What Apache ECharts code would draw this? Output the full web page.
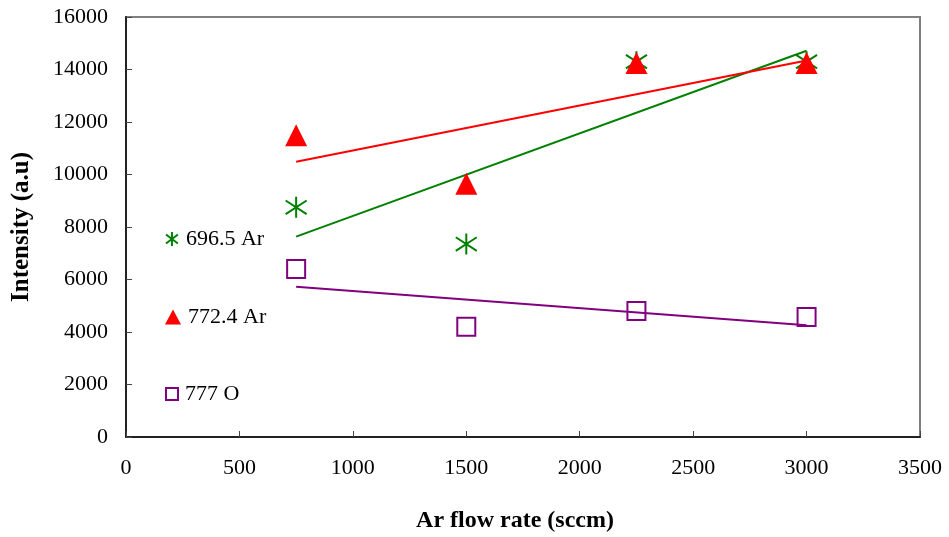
<!DOCTYPE html>
<html>
<head>
<meta charset="utf-8">
<script src="https://cdn.jsdelivr.net/npm/echarts@6/dist/echarts.min.js"></script>
<style>
  html, body { margin: 0; padding: 0; background: #fff; }
  #chart { width: 949px; height: 537px; }
</style>
</head>
<body>
<div id="chart"></div>
<script>
// Ar flow rate (sccm)
const flowRates = [750, 1500, 2250, 3000];
// Emission line intensities (a.u.)
const ar6965 = [8750, 7350, 14300, 14300];
const ar7724 = [11500, 9650, 14250, 14250];
const o777 = [6400, 4200, 4800, 4570];

const seriesNames = ['696.5 Ar', '772.4 Ar', '777 O'];
const xTicks = [0, 500, 1000, 1500, 2000, 2500, 3000, 3500];
const yTicks = [0, 2000, 4000, 6000, 8000, 10000, 12000, 14000, 16000];

const FONT = '"Liberation Serif", "Times New Roman", serif';
const GREEN = '#008000', RED = '#ff0000', PURPLE = '#800080';
const ASTERISK = 'path://M10,0L10,20M1.5,3.5L18.5,16.5M1.5,16.5L18.5,3.5';

// least-squares line evaluated at the first and last flow rate
function trend(xs, ys) {
  const n = xs.length;
  const mx = xs.reduce((a, b) => a + b, 0) / n;
  const my = ys.reduce((a, b) => a + b, 0) / n;
  let sxy = 0, sxx = 0;
  for (let i = 0; i < n; i++) {
    sxy += (xs[i] - mx) * (ys[i] - my);
    sxx += (xs[i] - mx) * (xs[i] - mx);
  }
  const k = sxy / sxx, b = my - k * mx;
  const x0 = xs[0], x1 = xs[n - 1];
  return [[x0, k * x0 + b], [x1, k * x1 + b]];
}

const pairs = ys => flowRates.map((x, i) => [x, ys[i]]);

const chart = echarts.init(document.getElementById('chart'));

function legendAt(top, name, icon, style, w, h) {
  return {
    left: 160, top: top, orient: 'vertical',
    itemWidth: w, itemHeight: h, itemGap: 0,
    selectedMode: false,
    data: [{ name: name, icon: icon, itemStyle: style }],
    textStyle: { fontFamily: FONT, fontSize: 22, color: '#000', padding: [0, 0, 0, 2] }
  };
}

chart.setOption({
  animation: false,
  backgroundColor: '#fff',
  grid: {
    left: 126, right: 29, top: 17, bottom: 100,
    outerBoundsMode: 'none',
    show: true, borderColor: '#808080', borderWidth: 2, backgroundColor: 'transparent'
  },
  legend: [
    legendAt(223, seriesNames[0], ASTERISK, { color: 'transparent', borderColor: GREEN, borderWidth: 2, opacity: 1 }, 14, 14),
    legendAt(301, seriesNames[1], 'triangle', { color: RED, borderWidth: 0, opacity: 1 }, 16, 15),
    legendAt(378, seriesNames[2], 'rect', { color: '#fff', borderColor: PURPLE, borderWidth: 2, opacity: 1 }, 12, 12)
  ],
  xAxis: {
    type: 'value', min: 0, max: 3500, interval: 500,
    name: 'Ar flow rate (sccm)', nameLocation: 'middle', nameGap: 72,
    nameTextStyle: { fontFamily: FONT, fontSize: 24, fontWeight: 'bold', color: '#000', padding: [0, 16, 0, 0] },
    axisLine: { show: true, onZero: false, lineStyle: { color: '#222', width: 2 } },
    axisTick: { show: true, inside: true, length: 6, lineStyle: { color: '#444', width: 1 } },
    axisLabel: { margin: 20, fontFamily: FONT, fontSize: 22, color: '#000',
      formatter: v => xTicks.includes(v) ? String(v) : '' },
    splitLine: { show: false }
  },
  yAxis: {
    type: 'value', min: 0, max: 16000, interval: 2000,
    name: 'Intensity (a.u)', nameLocation: 'middle', nameGap: 92, nameRotate: 90,
    nameTextStyle: { fontFamily: FONT, fontSize: 25, fontWeight: 'bold', color: '#000' },
    axisLine: { show: true, lineStyle: { color: '#222', width: 2 } },
    axisTick: { show: true, inside: true, length: 6, lineStyle: { color: '#444', width: 1 } },
    axisLabel: { margin: 18, fontFamily: FONT, fontSize: 22, color: '#000',
      formatter: v => yTicks.includes(v) ? String(v) : '' },
    splitLine: { show: false }
  },
  series: [
    { name: seriesNames[0] + ' fit', type: 'line', data: trend(flowRates, ar6965), symbol: 'none',
      lineStyle: { color: GREEN, width: 2 }, z: 2, silent: true },
    { name: seriesNames[1] + ' fit', type: 'line', data: trend(flowRates, ar7724), symbol: 'none',
      lineStyle: { color: RED, width: 2 }, z: 2, silent: true },
    { name: seriesNames[2] + ' fit', type: 'line', data: trend(flowRates, o777), symbol: 'none',
      lineStyle: { color: PURPLE, width: 2 }, z: 2, silent: true },
    { name: seriesNames[0], type: 'scatter', data: pairs(ar6965), symbol: ASTERISK, symbolSize: 21,
      itemStyle: { color: 'transparent', borderColor: GREEN, borderWidth: 2, opacity: 1 }, z: 3 },
    { name: seriesNames[1], type: 'scatter', data: pairs(ar7724), symbol: 'triangle', symbolSize: [22, 22],
      itemStyle: { color: RED, opacity: 1 }, z: 4 },
    { name: seriesNames[2], type: 'scatter', data: pairs(o777), symbol: 'rect', symbolSize: 18,
      itemStyle: { color: 'transparent', borderColor: PURPLE, borderWidth: 2, opacity: 1 }, z: 5 }
  ]
});
</script>
</body>
</html>
